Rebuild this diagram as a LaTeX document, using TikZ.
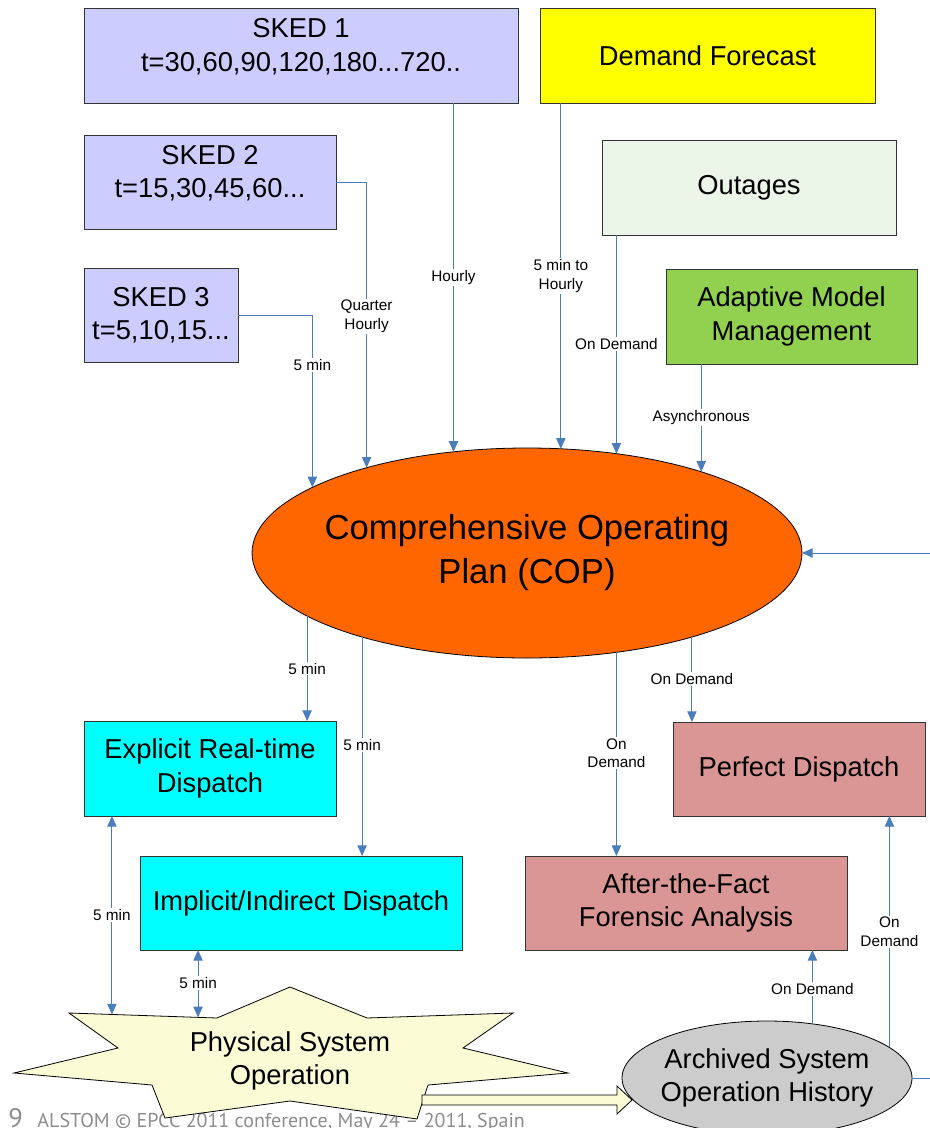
\documentclass[tikz,border=0pt]{standalone}
\usepackage{fontspec}
\setmainfont{Liberation Sans}
\newfontfamily\footfont{PT Sans}
\usetikzlibrary{arrows.meta,calc,shapes.geometric}

\newcommand{\boxfont}{\fontsize{20.5}{25}\selectfont}
\newcommand{\copfont}{\fontsize{26}{33}\selectfont}
\newcommand{\lblfont}{\fontsize{11.5}{14}\selectfont}

\begin{document}
\begin{tikzpicture}[x=0.75pt,y=-0.75pt,
    box/.style={draw=black!80, line width=0.6pt, align=center, inner sep=0pt, outer sep=0pt, font=\boxfont},
    boxtext/.style={font=\boxfont, align=center, yshift=6.5pt},
    flow/.style={draw=flowblue, line width=0.75pt, -{Triangle[length=8pt,width=7pt]}},
    twoflow/.style={flow, {Triangle[length=8pt,width=7pt]}-{Triangle[length=8pt,width=7pt]}},
    lbl/.style={fill=white, inner sep=1pt, font=\lblfont, align=center}]
    \definecolor{skedblue}{HTML}{CCCCFF}
    \definecolor{demandyellow}{HTML}{FFFF00}
    \definecolor{outagegreen}{HTML}{EBF6E8}
    \definecolor{adaptgreen}{HTML}{92D050}
    \definecolor{coporange}{HTML}{FF6600}
    \definecolor{dispcyan}{HTML}{00FFFF}
    \definecolor{forensicrose}{HTML}{D99694}
    \definecolor{starfill}{HTML}{FBFBD6}
    \definecolor{archgrey}{HTML}{CCCCCC}
    \definecolor{flowblue}{HTML}{4A7EBB}
    \definecolor{footgrey}{HTML}{8C8C8C}
    \useasboundingbox (0,0) rectangle (929,1128);
    %\draw[help lines,step=50] (0,0) grid (929,1128);

    % input boxes
    \node[box, fill=skedblue, minimum width=325.5pt, minimum height=71.25pt,
          label={[boxtext]center:{SKED 1\\t=30,60,90,120,180...720..}}] (sked1) at (301,55.5) {};
    \node[box, fill=demandyellow, minimum width=251.25pt, minimum height=71.25pt] (demand) at (707.5,55.5) {Demand Forecast};
    \node[box, fill=skedblue, minimum width=189pt, minimum height=70.5pt,
          label={[boxtext]center:{SKED 2\\t=15,30,45,60...}}] (sked2) at (210,182) {};
    \node[box, fill=outagegreen, minimum width=220.5pt, minimum height=71.25pt] (outages) at (749,187.5) {Outages};
    \node[box, fill=skedblue, minimum width=115.5pt, minimum height=70.5pt] (sked3) at (161,315) {SKED 3\\t=5,10,15...};
    \node[box, fill=adaptgreen, minimum width=188.25pt, minimum height=71.25pt] (adaptive) at (791.5,316.5) {Adaptive Model\\Management};

    % plan
    \node[ellipse, draw=black, line width=0.6pt, fill=coporange, inner sep=0pt, outer sep=0pt,
          minimum width=412.5pt, minimum height=157.5pt,
          label={[font=\copfont, align=center]center:{Comprehensive Operating\\Plan (COP)}}] (cop) at (527,553) {};

    % output boxes
    \node[box, fill=dispcyan, minimum width=189pt, minimum height=71.25pt] (explicit) at (210,768.5) {Explicit Real-time\\Dispatch};
    \node[box, fill=forensicrose, minimum width=189pt, minimum height=70.5pt] (perfect) at (799,769) {Perfect Dispatch};
    \node[box, fill=dispcyan, minimum width=241.5pt, minimum height=70.5pt] (implicit) at (301,903) {Implicit/Indirect Dispatch};
    \node[box, fill=forensicrose, minimum width=241.5pt, minimum height=70.5pt] (forensic) at (686,903) {After-the-Fact\\Forensic Analysis};

    \node[ellipse, draw=black, line width=0.6pt, fill=archgrey, inner sep=0pt, outer sep=0pt,
          minimum width=217.5pt, minimum height=85.5pt,
          label={[font=\boxfont, align=center]center:{Archived System\\Operation History}}] (archive) at (767,1078) {};

    % footer
    \node[anchor=base west, inner sep=0pt, text=footgrey, font=\footfont] (footer) at (8,1127)
        {\fontsize{20}{20}\selectfont 9\hspace{11pt}\fontsize{15}{15}\selectfont ALSTOM © EPCC 2011 conference, May 24 – 2011, Spain};

    % physical system star
    \coordinate (p1) at (290,987);
    \coordinate (i1) at (367,1018);
    \coordinate (p2) at (513,1013);
    \coordinate (i2) at (463,1048);
    \coordinate (p3) at (568,1073);
    \coordinate (i3) at (428,1085);
    \coordinate (p4) at (417,1119);
    \coordinate (i4) at (290,1101);
    \coordinate (p5) at (165,1118);
    \coordinate (i5) at (152,1085);
    \coordinate (p6) at (14,1073);
    \coordinate (i6) at (118,1048);
    \coordinate (p7) at (69,1013);
    \coordinate (i7) at (217,1018);
    \path[draw=black, line width=0.6pt, fill=starfill] (p1) -- (i1) -- (p2) -- (i2) -- (p3) -- (i3) -- (p4)
        -- (i4) -- (p5) -- (i5) -- (p6) -- (i6) -- (p7) -- (i7) -- cycle;
    \node[font=\boxfont, align=center] (physical) at (290,1061) {Physical System\\Operation};
    \coordinate (star-a) at ($(p7)!0.29!(i7)$);
    \coordinate (star-b) at ($(p7)!0.872!(i7)$);

    % block arrow to the archive
    \path[draw=black, line width=0.6pt, fill=starfill] (422,1095) -- (617,1095) -- (617,1086) -- (632,1100)
        -- (617,1114) -- (617,1105) -- (422,1105) -- cycle;

    % connectors into the plan
    \draw[flow] (sked1.south -| cop.126.6) -- (cop.126.6) node[lbl, pos=0.5] {Hourly};
    \draw[flow] (demand.south -| cop.72.4) -- (cop.72.4) node[lbl, pos=0.5] {5 min to\\Hourly};
    \draw[flow] (sked2.east) -| (cop.152.8) node[lbl, pos=0.735] {Quarter\\Hourly};
    \draw[flow] (sked3.east) -| (cop.163.4) node[lbl, pos=0.645] {5 min};
    \draw[flow] (outages.south -| cop.48.1) -- (cop.48.1) node[lbl, pos=0.5] {On Demand};
    \draw[flow] (adaptive.south -| cop.25.7) -- (cop.25.7) node[lbl, pos=0.5] {Asynchronous};
    \coordinate (offright) at (945,0);
    \draw[flow] (archive.east) -- (archive.east -| offright) |- (cop.east);

    % connectors out of the plan
    \draw[flow] (cop.196.6) -- (cop.196.6 |- explicit.north) node[lbl, pos=0.5] {5 min};
    \draw[flow] (cop.207.6) -- (cop.207.6 |- implicit.north) node[lbl, pos=0.495] {5 min};
    \draw[flow] (cop.312.2) -- (cop.312.2 |- forensic.north) node[lbl, pos=0.495] {On\\Demand};
    \draw[flow] (cop.333.7) -- (cop.333.7 |- perfect.north) node[lbl, pos=0.49] {On Demand};

    % physical system and archive
    \draw[twoflow] (explicit.south -| star-a) -- (star-a) node[lbl, pos=0.5] {5 min};
    \draw[twoflow] (implicit.south -| star-b) -- (star-b) node[lbl, pos=0.49] {5 min};
    \draw[flow] (archive.50.3) -- (archive.50.3 |- forensic.south) node[lbl, pos=0.47] {On Demand};
    \draw[flow] (archive.14.5) -- (archive.14.5 |- perfect.south) node[lbl, pos=0.5] {On\\Demand};
\end{tikzpicture}
\end{document}
